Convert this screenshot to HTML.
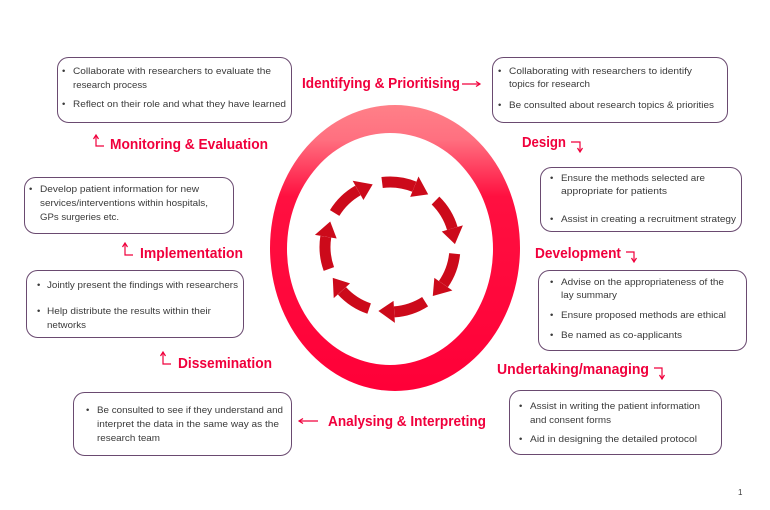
<!DOCTYPE html>
<html><head><meta charset="utf-8"><style>
html,body{margin:0;padding:0;background:#fff;width:770px;height:510px;overflow:hidden}
svg{display:block}
.t{font-family:"Liberation Sans",sans-serif;font-size:9.5px;fill:#3a3a3a}
.l{font-family:"Liberation Sans",sans-serif;font-size:15px;font-weight:bold;fill:#f0003c}
.b{fill:#fff;stroke:#6a4a70;stroke-width:1}
.i{stroke:#f0003c;stroke-width:1.2;fill:none}
</style></head><body>
<svg width="770" height="510" viewBox="0 0 770 510" xmlns="http://www.w3.org/2000/svg">
<defs>
<linearGradient id="g" x1="0" y1="0" x2="0" y2="1">
<stop offset="0" stop-color="#ff8088"/>
<stop offset="0.12" stop-color="#ff7080"/>
<stop offset="0.32" stop-color="#ff1040"/>
<stop offset="1" stop-color="#ff0038"/>
</linearGradient>
<g id="arr">
<path d="M382.1,182.5 A65,65 0 0 1 414.3,186.7" stroke="#cc0a1a" stroke-width="11" fill="none"/>
<polygon points="418.5,176.5 428.2,194.4 410.2,196.9" fill="#cc0a1a"/>
</g>
</defs>
<path fill-rule="evenodd" fill="url(#g)" d="M270,248 A125,143 0 1 0 520,248 A125,143 0 1 0 270,248 Z M287,249 A103,116 0 1 0 493,249 A103,116 0 1 0 287,249 Z"/>
<use href="#arr"/>
<use href="#arr" transform="rotate(51.43 390 247)"/>
<use href="#arr" transform="rotate(102.86 390 247)"/>
<use href="#arr" transform="rotate(154.29 390 247)"/>
<use href="#arr" transform="rotate(205.71 390 247)"/>
<use href="#arr" transform="rotate(257.14 390 247)"/>
<use href="#arr" transform="rotate(308.57 390 247)"/>

<rect class="b" x="57.5" y="57.5" width="234" height="65" rx="11"/>
<rect class="b" x="492.5" y="57.5" width="235" height="65" rx="11"/>
<rect class="b" x="540.5" y="167.5" width="201" height="64" rx="11"/>
<rect class="b" x="24.5" y="177.5" width="209" height="56" rx="11"/>
<rect class="b" x="538.5" y="270.5" width="208" height="80" rx="11"/>
<rect class="b" x="26.5" y="270.5" width="217" height="67" rx="11"/>
<rect class="b" x="509.5" y="390.5" width="212" height="64" rx="11"/>
<rect class="b" x="73.5" y="392.5" width="218" height="63" rx="11"/>

<g class="t">
<text x="62" y="74">•</text>
<text x="73" y="74" textLength="198" lengthAdjust="spacingAndGlyphs">Collaborate with researchers to evaluate the</text>
<text x="73" y="88" textLength="74" lengthAdjust="spacingAndGlyphs">research process</text>
<text x="62" y="107">•</text>
<text x="73" y="107" textLength="213" lengthAdjust="spacingAndGlyphs">Reflect on their role and what they have learned</text>

<text x="498" y="74">•</text>
<text x="509" y="74" textLength="183" lengthAdjust="spacingAndGlyphs">Collaborating with researchers to identify</text>
<text x="509" y="87" textLength="81" lengthAdjust="spacingAndGlyphs">topics for research</text>
<text x="498" y="108">•</text>
<text x="509" y="108" textLength="205" lengthAdjust="spacingAndGlyphs">Be consulted about research topics &amp; priorities</text>

<text x="550" y="181">•</text>
<text x="561" y="181" textLength="144" lengthAdjust="spacingAndGlyphs">Ensure the methods selected are</text>
<text x="561" y="194" textLength="106" lengthAdjust="spacingAndGlyphs">appropriate for patients</text>
<text x="550" y="222">•</text>
<text x="561" y="222" textLength="175" lengthAdjust="spacingAndGlyphs">Assist in creating a recruitment strategy</text>

<text x="29" y="192">•</text>
<text x="40" y="192" textLength="159" lengthAdjust="spacingAndGlyphs">Develop patient information for new</text>
<text x="40" y="206" textLength="168" lengthAdjust="spacingAndGlyphs">services/interventions within hospitals,</text>
<text x="40" y="220" textLength="79" lengthAdjust="spacingAndGlyphs">GPs surgeries etc.</text>

<text x="550" y="285">•</text>
<text x="561" y="285" textLength="163" lengthAdjust="spacingAndGlyphs">Advise on the appropriateness of the</text>
<text x="561" y="298" textLength="56" lengthAdjust="spacingAndGlyphs">lay summary</text>
<text x="550" y="318">•</text>
<text x="561" y="318" textLength="165" lengthAdjust="spacingAndGlyphs">Ensure proposed methods are ethical</text>
<text x="550" y="338">•</text>
<text x="561" y="338" textLength="121" lengthAdjust="spacingAndGlyphs">Be named as co-applicants</text>

<text x="37" y="288">•</text>
<text x="47" y="288" textLength="191" lengthAdjust="spacingAndGlyphs">Jointly present the findings with researchers</text>
<text x="37" y="314">•</text>
<text x="47" y="314" textLength="164" lengthAdjust="spacingAndGlyphs">Help distribute the results within their</text>
<text x="47" y="328" textLength="39" lengthAdjust="spacingAndGlyphs">networks</text>

<text x="519" y="409">•</text>
<text x="530" y="409" textLength="170" lengthAdjust="spacingAndGlyphs">Assist in writing the patient information</text>
<text x="530" y="423" textLength="81" lengthAdjust="spacingAndGlyphs">and consent forms</text>
<text x="519" y="442">•</text>
<text x="530" y="442" textLength="167" lengthAdjust="spacingAndGlyphs">Aid in designing the detailed protocol</text>

<text x="86" y="413">•</text>
<text x="97" y="413" textLength="186" lengthAdjust="spacingAndGlyphs">Be consulted to see if they understand and</text>
<text x="97" y="427" textLength="182" lengthAdjust="spacingAndGlyphs">interpret the data in the same way as the</text>
<text x="97" y="441" textLength="63" lengthAdjust="spacingAndGlyphs">research team</text>

<text x="738" y="495" style="font-size:8px">1</text>
</g>

<g class="l">
<text x="302" y="88" textLength="158" lengthAdjust="spacingAndGlyphs">Identifying &amp; Prioritising</text>
<text x="110" y="149" textLength="158" lengthAdjust="spacingAndGlyphs">Monitoring &amp; Evaluation</text>
<text x="522" y="147" textLength="44" lengthAdjust="spacingAndGlyphs">Design</text>
<text x="140" y="258" textLength="103" lengthAdjust="spacingAndGlyphs">Implementation</text>
<text x="535" y="258" textLength="86" lengthAdjust="spacingAndGlyphs">Development</text>
<text x="178" y="368" textLength="94" lengthAdjust="spacingAndGlyphs">Dissemination</text>
<text x="497" y="374" textLength="152" lengthAdjust="spacingAndGlyphs">Undertaking/managing</text>
<text x="328" y="426" textLength="158" lengthAdjust="spacingAndGlyphs">Analysing &amp; Interpreting</text>
</g>

<g class="i">
<path d="M462,84 H479"/><path d="M476,81.5 L480,84 L476,86.5" />
<path d="M318,421 H300"/><path d="M303,418.5 L299,421 L303,423.5"/>
<path d="M96,136 V146 H104"/><path d="M93.5,139 L96,135 L98.5,139"/>
<path d="M125,244 V255 H133"/><path d="M122.5,247 L125,243 L127.5,247"/>
<path d="M163,353 V364 H171"/><path d="M160.5,356 L163,352 L165.5,356"/>
<path d="M571,142 H580 V151"/><path d="M577.5,148 L580,152 L582.5,148"/>
<path d="M626,252 H634 V261"/><path d="M631.5,258 L634,262 L636.5,258"/>
<path d="M654,368 H662 V378"/><path d="M659.5,375 L662,379 L664.5,375"/>
</g>
</svg>
</body></html>
